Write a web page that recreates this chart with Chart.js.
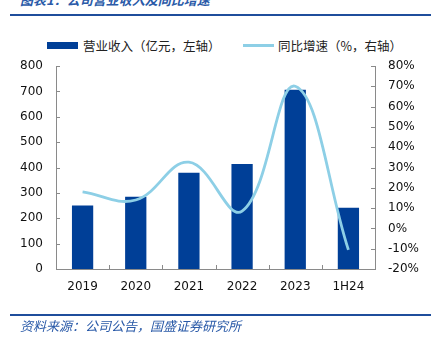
<!DOCTYPE html>
<html>
<head>
<meta charset="utf-8">
<script src="https://cdn.jsdelivr.net/npm/chart.js@4.4.1/dist/chart.umd.min.js"></script>
<style>
  html, body { margin: 0; padding: 0; background: #fff; }
  #wrap { position: relative; width: 434px; height: 341px; overflow: hidden; }
  #chart { position: absolute; left: 0; top: 0; }
  .rule { position: absolute; left: 10px; width: 421px; height: 2px; background: #1f4e9c; }
  .note { position: absolute; left: 20px; font-family: "Noto Sans CJK SC", sans-serif; font-style: italic; color: #2a5aa8; white-space: nowrap; }
  .legend { position: absolute; top: 36px; font-family: "Noto Sans CJK SC", sans-serif; font-size: 12.5px; color: #222; white-space: nowrap; display: flex; align-items: center; }
  .sw-bar { display: inline-block; width: 31px; height: 7px; background: #003f97; margin-right: 5px; }
  .sw-line { display: inline-block; width: 31px; height: 3px; background: #8dcfe6; margin-right: 4px; }
</style>
</head>
<body>
<div id="wrap">
  <div class="note" style="top:-10px;font-size:13px;font-weight:bold;">图表1：公司营业收入及同比增速</div>
  <div class="rule" style="top:14px;"></div>
  <div class="legend" style="left:47px;"><span class="sw-bar"></span>营业收入（亿元，左轴）</div>
  <div class="legend" style="left:243px;"><span class="sw-line"></span>同比增速（%，右轴）</div>
  <canvas id="chart" width="434" height="341"></canvas>
  <div class="rule" style="top:314px;"></div>
  <div class="note" style="top:316px;font-size:13px;">资料来源：公司公告，国盛证券研究所</div>
</div>
<script>
const years = ['2019', '2020', '2021', '2022', '2023', '1H24'];
const revenue = [250, 285, 379, 414, 706, 241];      // 亿元
const growth = [18, 14, 32.6, 8.5, 70, -10.6];         // %
const leftTicks = [0, 100, 200, 300, 400, 500, 600, 700, 800];
const rightTicks = [-20, -10, 0, 10, 20, 30, 40, 50, 60, 70, 80];

const axisGray = '#8a8a8a';
const tickFont = { family: 'DejaVu Sans', size: 12 };

// short tick marks pointing into the plot, like the source chart
const innerTicks = {
  id: 'innerTicks',
  afterDatasetsDraw(chart) {
    const { ctx, chartArea, scales } = chart;
    ctx.save();
    ctx.strokeStyle = axisGray;
    ctx.lineWidth = 1;
    ctx.beginPath();
    leftTicks.forEach(v => {
      const y = Math.round(scales.y.getPixelForValue(v)) + 0.5;
      ctx.moveTo(chartArea.left, y); ctx.lineTo(chartArea.left + 4, y);
    });
    rightTicks.forEach(v => {
      const y = Math.round(scales.y1.getPixelForValue(v)) + 0.5;
      ctx.moveTo(chartArea.right, y); ctx.lineTo(chartArea.right - 4, y);
    });
    for (let i = 1; i < years.length; i++) {
      const x = Math.round((scales.x.getPixelForValue(i - 1) + scales.x.getPixelForValue(i)) / 2) + 0.5;
      ctx.moveTo(x, chartArea.bottom); ctx.lineTo(x, chartArea.bottom - 4);
    }
    ctx.stroke();
    ctx.restore();
  }
};

new Chart(document.getElementById('chart').getContext('2d'), {
  data: {
    labels: years,
    datasets: [
      {
        type: 'line',
        label: '同比增速（%，右轴）',
        data: growth,
        yAxisID: 'y1',
        borderColor: '#8dcfe6',
        borderWidth: 2.8,
        pointRadius: 0,
        tension: 0.4,
        fill: false,
        order: 0
      },
      {
        type: 'bar',
        label: '营业收入（亿元，左轴）',
        data: revenue,
        yAxisID: 'y',
        backgroundColor: '#003f97',
        categoryPercentage: 1,
        barPercentage: 0.4,
        order: 1
      }
    ]
  },
  options: {
    responsive: false,
    animation: false,
    layout: { padding: { top: 66, left: 0, right: 0, bottom: 0 } },
    plugins: { legend: { display: false }, tooltip: { enabled: false } },
    scales: {
      x: {
        grid: { display: false, drawTicks: false },
        border: { color: axisGray, width: 1 },
        ticks: { color: '#111', font: tickFont, padding: 11 },
        afterFit: s => { s.height = 72; }
      },
      y: {
        position: 'left',
        min: 0, max: 800,
        grid: { display: false, drawTicks: false },
        border: { color: axisGray, width: 1 },
        ticks: { stepSize: 100, color: '#111', font: tickFont, padding: 13 },
        afterFit: s => { s.width = 56; }
      },
      y1: {
        position: 'right',
        min: -20, max: 80,
        grid: { display: false, drawTicks: false },
        border: { color: axisGray, width: 1 },
        ticks: { stepSize: 10, color: '#111', font: tickFont, padding: 13, callback: v => v + '%' },
        afterFit: s => { s.width = 59; }
      }
    }
  },
  plugins: [innerTicks]
});
</script>
</body>
</html>
